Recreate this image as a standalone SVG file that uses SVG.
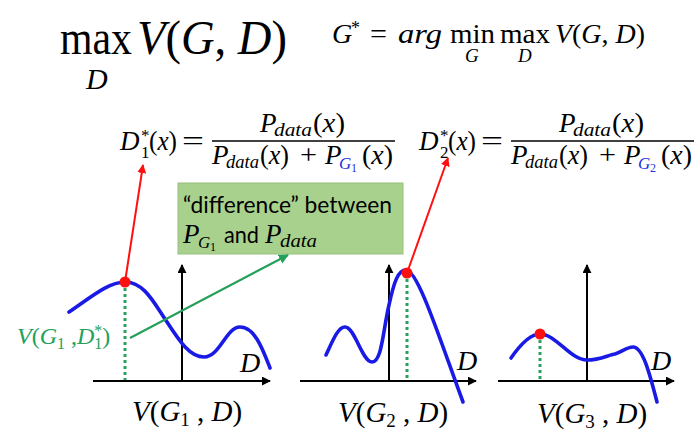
<svg xmlns="http://www.w3.org/2000/svg" width="699" height="433" viewBox="0 0 699 433">
<style>
.m{font-family:"Liberation Serif","DejaVu Serif",serif;font-style:italic;fill:#000}
.u{font-style:normal}
.sans{font-family:Lato,"Liberation Sans",sans-serif;fill:#000}
.axis{stroke:#000;stroke-width:2;fill:none}
.curve{stroke:#1a1ae6;stroke-width:3.6;fill:none;stroke-linecap:round}
.dot{stroke:#2ba05e;stroke-width:3;stroke-dasharray:3 3;fill:none}
.red{fill:#ff1010}
.green{fill:#24a05a}
.blue{fill:#2233dd}
</style>
<defs>
<marker id="ab" viewBox="0 0 10 10" refX="9" refY="5" markerWidth="9" markerHeight="9" markerUnits="userSpaceOnUse" orient="auto"><path d="M0,0 L10,5 L0,10 z" fill="#000"/></marker>
<marker id="ar" viewBox="0 0 10 10" refX="9" refY="5" markerWidth="9" markerHeight="9" markerUnits="userSpaceOnUse" orient="auto"><path d="M0,0 L10,5 L0,10 z" fill="#ff1010"/></marker>
<marker id="ag" viewBox="0 0 10 10" refX="9" refY="5" markerWidth="10" markerHeight="10" markerUnits="userSpaceOnUse" orient="auto"><path d="M0,0 L10,5 L0,10 z" fill="#24a05a"/></marker>
</defs>
<rect width="699" height="433" fill="#fff"/>

<g id="title-max">
<text class="m u" x="60" y="54" font-size="48" textLength="72" lengthAdjust="spacingAndGlyphs">max</text>
<text class="m" x="86" y="89" font-size="30">D</text>
<text class="m" x="137" y="54" font-size="48" textLength="150" lengthAdjust="spacingAndGlyphs">V<tspan class="u">(</tspan>G<tspan class="u">, </tspan>D<tspan class="u">)</tspan></text>
</g>

<g id="title-argmin">
<text class="m" x="332" y="43" font-size="28">G</text>
<text class="m u" x="351" y="34" font-size="18">*</text>
<text class="m u" x="370" y="43" font-size="28" textLength="17" lengthAdjust="spacingAndGlyphs">=</text>
<text class="m" x="398" y="43" font-size="28" textLength="44" lengthAdjust="spacingAndGlyphs">arg</text>
<text class="m u" x="450" y="43" font-size="28" textLength="45" lengthAdjust="spacingAndGlyphs">min</text>
<text class="m" x="465" y="62" font-size="19">G</text>
<text class="m u" x="500" y="43" font-size="28" textLength="50" lengthAdjust="spacingAndGlyphs">max</text>
<text class="m" x="518" y="62" font-size="19">D</text>
<text class="m" x="555" y="43" font-size="28" textLength="90" lengthAdjust="spacingAndGlyphs">V<tspan class="u">(</tspan>G<tspan class="u">, </tspan>D<tspan class="u">)</tspan></text>
</g>

<g id="formula-d1">
<text class="m" x="120" y="150" font-size="27">D</text>
<text class="m u" x="141" y="158" font-size="17">1</text>
<text class="m u" x="141" y="141" font-size="17">*</text>
<text class="m" x="149" y="150" font-size="27" textLength="28" lengthAdjust="spacingAndGlyphs"><tspan class="u">(</tspan>x<tspan class="u">)</tspan></text>
<text class="m u" x="182" y="150" font-size="27" textLength="22" lengthAdjust="spacingAndGlyphs">=</text>
<line x1="212" y1="141" x2="395" y2="141" stroke="#000" stroke-width="1.5"/>
<text class="m" x="260" y="132" font-size="27">P</text>
<text class="m" x="274" y="136" font-size="19" textLength="38" lengthAdjust="spacingAndGlyphs">data</text>
<text class="m" x="313" y="132" font-size="27" textLength="32" lengthAdjust="spacingAndGlyphs"><tspan class="u">(</tspan>x<tspan class="u">)</tspan></text>
<text class="m" x="212" y="164" font-size="27">P</text>
<text class="m" x="226" y="168" font-size="19" textLength="33" lengthAdjust="spacingAndGlyphs">data</text>
<text class="m" x="260" y="164" font-size="27" textLength="29" lengthAdjust="spacingAndGlyphs"><tspan class="u">(</tspan>x<tspan class="u">)</tspan></text>
<text class="m u" x="300" y="164" font-size="27" textLength="17" lengthAdjust="spacingAndGlyphs">+</text>
<text class="m" x="325" y="164" font-size="27">P</text>
<text class="m blue" x="339" y="169" font-size="17">G</text>
<text class="m u blue" x="351" y="172" font-size="12">1</text>
<text class="m" x="362" y="164" font-size="27" textLength="31" lengthAdjust="spacingAndGlyphs"><tspan class="u">(</tspan>x<tspan class="u">)</tspan></text>
</g>

<g id="formula-d2" transform="translate(299,0)">
<text class="m" x="120" y="150" font-size="27">D</text>
<text class="m u" x="141" y="158" font-size="17">2</text>
<text class="m u" x="141" y="141" font-size="17">*</text>
<text class="m" x="149" y="150" font-size="27" textLength="28" lengthAdjust="spacingAndGlyphs"><tspan class="u">(</tspan>x<tspan class="u">)</tspan></text>
<text class="m u" x="182" y="150" font-size="27" textLength="22" lengthAdjust="spacingAndGlyphs">=</text>
<line x1="212" y1="141" x2="395" y2="141" stroke="#000" stroke-width="1.5"/>
<text class="m" x="260" y="132" font-size="27">P</text>
<text class="m" x="274" y="136" font-size="19" textLength="38" lengthAdjust="spacingAndGlyphs">data</text>
<text class="m" x="313" y="132" font-size="27" textLength="32" lengthAdjust="spacingAndGlyphs"><tspan class="u">(</tspan>x<tspan class="u">)</tspan></text>
<text class="m" x="212" y="164" font-size="27">P</text>
<text class="m" x="226" y="168" font-size="19" textLength="33" lengthAdjust="spacingAndGlyphs">data</text>
<text class="m" x="260" y="164" font-size="27" textLength="29" lengthAdjust="spacingAndGlyphs"><tspan class="u">(</tspan>x<tspan class="u">)</tspan></text>
<text class="m u" x="300" y="164" font-size="27" textLength="17" lengthAdjust="spacingAndGlyphs">+</text>
<text class="m" x="325" y="164" font-size="27">P</text>
<text class="m blue" x="339" y="169" font-size="17">G</text>
<text class="m u blue" x="351" y="172" font-size="12">2</text>
<text class="m" x="362" y="164" font-size="27" textLength="31" lengthAdjust="spacingAndGlyphs"><tspan class="u">(</tspan>x<tspan class="u">)</tspan></text>
</g>

<g id="difference-box">
<rect x="178" y="183" width="225" height="71" fill="#a9d18e" stroke="#98c07c" stroke-width="1"/>
<text class="sans" x="183" y="213" font-size="24" textLength="209" lengthAdjust="spacingAndGlyphs">“difference” between</text>
<text class="m" x="183" y="243" font-size="27">P</text>
<text class="m" x="198" y="248" font-size="17">G</text>
<text class="m u" x="210" y="251" font-size="12">1</text>
<text class="sans" x="224" y="243" font-size="24" textLength="35" lengthAdjust="spacingAndGlyphs">and</text>
<text class="m" x="265" y="243" font-size="27">P</text>
<text class="m" x="280" y="247" font-size="19" textLength="37" lengthAdjust="spacingAndGlyphs">data</text>
</g>

<g id="graph1">
<line class="axis" x1="93" y1="381" x2="270" y2="381" marker-end="url(#ab)"/>
<line class="axis" x1="182" y1="381" x2="182" y2="265" marker-end="url(#ab)"/>
<line class="dot" x1="125" y1="288" x2="125" y2="380"/>
<path class="curve" d="M69,312 C90,298 108,282 125,282 C145,282 155,305 167,322 C180,342 190,357 204,357 C220,357 226,327 240,327 C255,327 263,350 270,368"/>
<circle cx="125" cy="282" r="5.5" class="red"/>
<text class="m" x="240" y="372" font-size="28">D</text>
<text class="m" x="132" y="421" font-size="29">V<tspan class="u">(</tspan>G<tspan class="u" font-size="19" dy="5">1</tspan><tspan class="u" dy="-5"> , </tspan>D<tspan class="u">)</tspan></text>
<text class="m green" x="17" y="344" font-size="24">V<tspan class="u">(</tspan>G<tspan class="u" font-size="16" dy="5">1</tspan><tspan class="u" dy="-5"> ,</tspan>D<tspan class="u" font-size="16" dy="5">1</tspan><tspan class="u" font-size="16" dx="-8" dy="-13">*</tspan><tspan class="u" dy="8">)</tspan></text>
</g>

<g id="graph2">
<line class="axis" x1="300" y1="381" x2="476" y2="381" marker-end="url(#ab)"/>
<line class="axis" x1="389" y1="381" x2="389" y2="265" marker-end="url(#ab)"/>
<line class="dot" x1="407" y1="279" x2="407" y2="380"/>
<path class="curve" d="M326,355 C333,340 338,327 345,327 C355,327 362,362 372,362 C382,362 383,330 389,305 C394,282 398,270 406,270 C418,270 440,340 463,402"/>
<circle cx="407" cy="273" r="5.5" class="red"/>
<text class="m" x="457" y="370" font-size="28">D</text>
<text class="m" x="338" y="422" font-size="29">V<tspan class="u">(</tspan>G<tspan class="u" font-size="19" dy="5">2</tspan><tspan class="u" dy="-5"> , </tspan>D<tspan class="u">)</tspan></text>
</g>

<g id="graph3">
<line class="axis" x1="498" y1="381" x2="674" y2="381" marker-end="url(#ab)"/>
<line class="axis" x1="587" y1="381" x2="587" y2="265" marker-end="url(#ab)"/>
<line class="dot" x1="540" y1="340" x2="540" y2="380"/>
<path class="curve" d="M511,358 C520,345 530,334 540,334 C556,334 570,360 587,360 C600,360 608,355 615,354 C622,352 627,347 633,347 C643,347 650,375 657,402"/>
<circle cx="540" cy="334" r="5.5" class="red"/>
<text class="m" x="651" y="370" font-size="28">D</text>
<text class="m" x="537" y="423" font-size="29">V<tspan class="u">(</tspan>G<tspan class="u" font-size="19" dy="5">3</tspan><tspan class="u" dy="-5"> , </tspan>D<tspan class="u">)</tspan></text>
</g>

<g id="connectors">
<line x1="125" y1="282" x2="143" y2="165" stroke="#ff1010" stroke-width="2" marker-end="url(#ar)"/>
<line x1="407" y1="273" x2="448" y2="158" stroke="#ff1010" stroke-width="2" marker-end="url(#ar)"/>
<line x1="130" y1="338" x2="288" y2="255" stroke="#24a05a" stroke-width="2.2" marker-end="url(#ag)"/>
</g>
</svg>
